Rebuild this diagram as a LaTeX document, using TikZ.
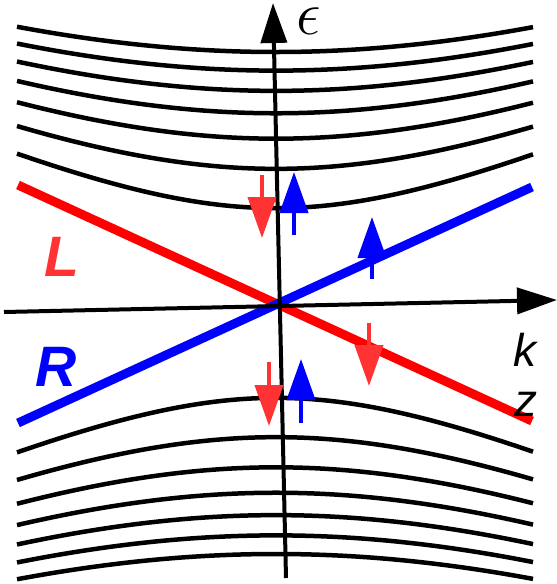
\documentclass[tikz,border=0pt]{standalone}
\usepackage{fix-cm}
\usepackage{fontspec}
\setsansfont{Liberation Sans}
\usetikzlibrary{arrows.meta}
\definecolor{lred}{HTML}{FF3333}
\definecolor{lblue}{HTML}{0000FF}
\definecolor{linered}{HTML}{FF0000}
\begin{document}
\begin{tikzpicture}[x=1pt,y=-1pt,
  level/.style={line width=4.5pt, black},
  axisline/.style={line width=4pt, black, -{Triangle[length=40pt,width=26pt]}},
  spin/.style={line width=4pt, -{Triangle[length=41pt,width=28pt]}},
  weyl/.style={line width=9pt},
  lab/.style={inner sep=0pt, font=\sffamily\itshape\fontsize{46}{50}\selectfont},
  biglab/.style={inner sep=0pt, font=\sffamily\bfseries\itshape\fontsize{57}{60}\selectfont},
]
\useasboundingbox (0,0) rectangle (557,584);
\fill[white] (0,0) rectangle (557,584);

% Landau-like levels
\foreach \n in {1,...,7}{
  \draw[level] plot[domain=17:533, samples=80, smooth]
    (\x, {303-100*sqrt(0.9*\n+(0.00446*(\x-276))^2)});
  \draw[level] plot[domain=17:533, samples=80, smooth]
    (\x, {303+100*sqrt(0.9*\n+(0.00446*(\x-276))^2)});
}

% chiral lines
\coordinate (Ls) at (18,185);
\coordinate (Le) at (532,421);
\coordinate (Rs) at (18,423);
\coordinate (Re) at (532,187);
\draw[weyl, linered] (Ls) -- (Le);
\draw[weyl, lblue] (Rs) -- (Re);

% axes
\coordinate (vb) at (286,578);
\coordinate (vt) at (273,3);
\coordinate (hl) at (4,312);
\coordinate (hr) at (557,300);
\draw[axisline] (vb) -- (vt);
\draw[axisline] (hl) -- (hr);

% spin arrows
\coordinate (s1a) at (262,175); \coordinate (s1b) at (262,238);
\coordinate (s2a) at (294,235); \coordinate (s2b) at (294,172);
\coordinate (s3a) at (372,279); \coordinate (s3b) at (372,217);
\coordinate (s4a) at (369,323); \coordinate (s4b) at (369,386);
\coordinate (s5a) at (269,362); \coordinate (s5b) at (269,426);
\coordinate (s6a) at (301,423); \coordinate (s6b) at (301,359);
\draw[spin, lred] (s1a) -- (s1b);
\draw[spin, lblue] (s2a) -- (s2b);
\draw[spin, lblue] (s3a) -- (s3b);
\draw[spin, lred] (s4a) -- (s4b);
\draw[spin, lred] (s5a) -- (s5b);
\draw[spin, lblue] (s6a) -- (s6b);

% labels
\node[inner sep=0pt, font=\fontsize{62}{66}\selectfont] (eps) at (309,21) {$\epsilon$};
\node[lab] (klab) at (525,350) {k};
\node[lab] (zlab) at (526,404) {z};
\node[biglab, text=lred] (Llab) at (62,257) {L};
\node[biglab, text=lblue] (Rlab) at (56,367) {R};
\end{tikzpicture}
\end{document}
